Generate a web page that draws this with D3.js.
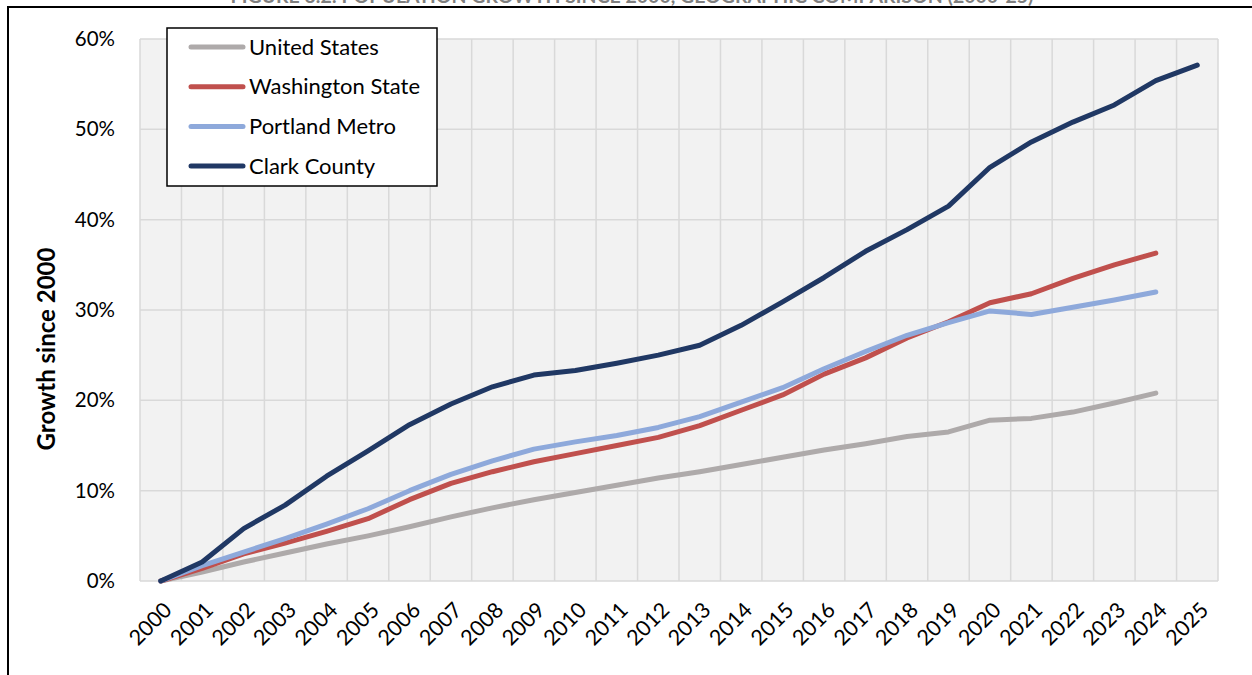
<!DOCTYPE html>
<html>
<head>
<meta charset="utf-8">
<script src="https://cdn.jsdelivr.net/npm/d3@7"></script>
<style>
  body { margin: 0; background: #fff; }
  svg { display: block; font-family: Lato, "Open Sans", sans-serif; }
</style>
</head>
<body>
<svg id="chart" width="1252" height="675"></svg>
<script>
// years on the x axis
const years = d3.range(2000, 2026).map(String);

// growth since 2000, in percent
const unitedStates = [0, 1.0, 2.1, 3.1, 4.1, 5.0, 6.0, 7.1, 8.1, 9.0, 9.8, 10.6, 11.4, 12.1, 12.9, 13.7, 14.5, 15.2, 16.0, 16.5, 17.8, 18.0, 18.7, 19.7, 20.8];
const washingtonState = [0, 1.4, 3.0, 4.2, 5.5, 6.9, 9.0, 10.8, 12.1, 13.2, 14.1, 15.0, 15.9, 17.2, 18.9, 20.6, 22.9, 24.7, 26.9, 28.7, 30.8, 31.8, 33.5, 35.0, 36.3];
const portlandMetro = [0, 1.7, 3.2, 4.7, 6.3, 8.0, 10.0, 11.8, 13.3, 14.6, 15.4, 16.1, 17.0, 18.2, 19.8, 21.4, 23.5, 25.4, 27.2, 28.6, 29.9, 29.5, 30.3, 31.1, 32.0];
const clarkCounty = [0, 2.1, 5.8, 8.4, 11.6, 14.4, 17.3, 19.6, 21.5, 22.8, 23.3, 24.1, 25.0, 26.1, 28.3, 30.9, 33.6, 36.5, 38.9, 41.5, 45.8, 48.6, 50.8, 52.7, 55.4, 57.1];

const yTicks = [0, 10, 20, 30, 40, 50, 60];

const series = [
  { name: "United States", values: unitedStates, color: "#AEAAAA" },
  { name: "Washington State", values: washingtonState, color: "#C0504D" },
  { name: "Portland Metro", values: portlandMetro, color: "#8EA9DB" },
  { name: "Clark County", values: clarkCounty, color: "#203864" }
];

const svg = d3.select("#chart");
const plot = { left: 140, right: 1218, top: 39, bottom: 581 };

// title, mostly above the top of the picture as in the source
svg.append("text")
  .attr("x", 632).attr("y", 3)
  .attr("text-anchor", "middle")
  .attr("font-size", 19.5).attr("font-weight", "bold")
  .attr("fill", "#7F7F7F")
  .text("FIGURE 3.2: POPULATION GROWTH SINCE 2000, GEOGRAPHIC COMPARISON (2000-25)");

// outer frame
svg.append("path")
  .attr("d", "M8,680 L8,7 L1260,7")
  .attr("fill", "none").attr("stroke", "#000").attr("stroke-width", 2);

const x = d3.scaleBand().domain(years).range([plot.left, plot.right]);
const y = d3.scaleLinear().domain([0, 60]).range([plot.bottom, plot.top]);

// plot background
svg.append("rect")
  .attr("x", plot.left).attr("y", plot.top)
  .attr("width", plot.right - plot.left).attr("height", plot.bottom - plot.top)
  .attr("fill", "#F2F2F2");

// gridlines
const grid = svg.append("g").attr("stroke", "#D9D9D9").attr("stroke-width", 1.5);
grid.selectAll("line.h").data(yTicks).enter().append("line")
  .attr("x1", plot.left).attr("x2", plot.right)
  .attr("y1", d => y(d)).attr("y2", d => y(d));
grid.selectAll("line.v").data(years.concat(["end"])).enter().append("line")
  .attr("x1", (d, i) => plot.left + i * x.step())
  .attr("x2", (d, i) => plot.left + i * x.step())
  .attr("y1", plot.top).attr("y2", plot.bottom);

// y axis labels
const yAxis = svg.append("g")
  .attr("transform", "translate(" + (plot.left - 22) + ",0)")
  .call(d3.axisLeft(y).tickValues(yTicks).tickSize(0).tickFormat(d => d + "%"));
yAxis.select(".domain").remove();
yAxis.selectAll("text").attr("font-size", 20.5).attr("fill", "#000")
  .attr("font-family", "Lato, sans-serif");

// x axis labels
const xAxis = svg.append("g")
  .attr("transform", "translate(0," + plot.bottom + ")")
  .call(d3.axisBottom(x).tickSize(0));
xAxis.select(".domain").remove();
xAxis.selectAll("text")
  .attr("font-size", 21.5).attr("fill", "#000")
  .attr("font-family", "Lato, sans-serif")
  .attr("text-anchor", "end")
  .attr("dy", "0.35em")
  .attr("transform", "translate(5,23) rotate(-45)");

// axis title
svg.append("text")
  .attr("transform", "translate(55,349) rotate(-90)")
  .attr("text-anchor", "middle")
  .attr("font-size", 24).attr("font-weight", "bold")
  .text("Growth since 2000");

// lines
const line = d3.line()
  .x((d, i) => x(years[i]) + x.bandwidth() / 2)
  .y(d => y(d));

svg.append("g").selectAll("path").data(series).enter().append("path")
  .attr("d", d => line(d.values))
  .attr("fill", "none")
  .attr("stroke", d => d.color)
  .attr("stroke-width", 5)
  .attr("stroke-linecap", "round")
  .attr("stroke-linejoin", "round");

// legend
const legend = svg.append("g");
legend.append("rect")
  .attr("x", 167).attr("y", 28).attr("width", 270).attr("height", 158)
  .attr("fill", "#fff").attr("stroke", "#000").attr("stroke-width", 1.5);
const items = legend.selectAll("g.item").data(series).enter().append("g")
  .attr("transform", (d, i) => "translate(0," + (47 + i * 39.7) + ")");
items.append("line")
  .attr("x1", 191).attr("x2", 243)
  .attr("stroke", d => d.color).attr("stroke-width", 5)
  .attr("stroke-linecap", "round");
items.append("text")
  .attr("x", 249).attr("dy", "0.35em")
  .attr("font-size", 22)
  .text(d => d.name);
</script>
</body>
</html>
